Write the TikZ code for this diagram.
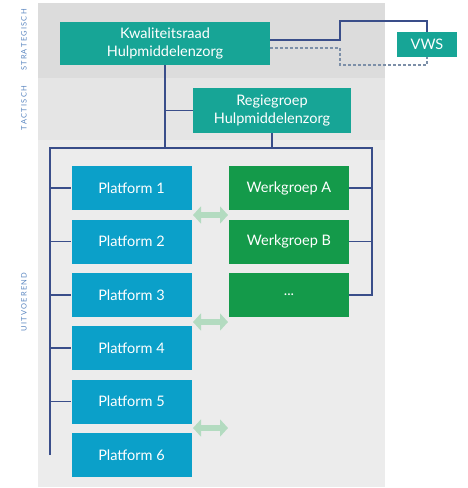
\documentclass[tikz,border=0pt]{standalone}
\usepackage{fontspec}
\setmainfont{Lato}
\usetikzlibrary{arrows.meta}
\definecolor{cTeal}{HTML}{17A596}
\definecolor{cPlat}{HTML}{0BA0C9}
\definecolor{cWerk}{HTML}{149A4A}
\definecolor{cLine}{HTML}{3A4E8A}
\definecolor{cDash}{HTML}{7C8FA8}
\definecolor{cArrow}{HTML}{B3DBC0}
\definecolor{cLabel}{HTML}{5A86C0}
\definecolor{bgS}{HTML}{DCDCDC}
\definecolor{bgT}{HTML}{E5E5E5}
\definecolor{bgU}{HTML}{ECECEC}
\tikzset{
  box/.style={draw=none, text=white, align=center, inner sep=0pt,
    font=\fontsize{14.5}{17.5}\selectfont},
  teal box/.style={box, fill=cTeal},
  plat box/.style={box, fill=cPlat, minimum width=120pt, minimum height=44pt},
  werk box/.style={box, fill=cWerk, minimum width=120pt, minimum height=44pt},
  ln/.style={draw=cLine, line width=1.4pt},
  dashln/.style={draw=cDash, line width=1.2pt, dash pattern=on 2.5pt off 2.5pt},
  dbl/.style={draw=cArrow, line width=6pt, {Triangle[width=17pt,length=8pt]}-{Triangle[width=17pt,length=8pt]}},
  side/.style={rotate=90, text=cLabel, font=\fontsize{7.5}{9}\selectfont}
}
\begin{document}
\begin{tikzpicture}[x=1pt,y=-1pt]
\useasboundingbox (0,0) rectangle (467,488);
% background bands
\fill[bgS] (38,3) rectangle (385,78);
\fill[bgT] (38,78) rectangle (385,140);
\fill[bgU] (38,140) rectangle (385,487);
% side labels
\node[side] (ls) at (24,40) {S\,T\,R\,A\,T\,E\,G\,I\,S\,C\,H};
\node[side] (lt) at (24,108) {T\,A\,C\,T\,I\,S\,C\,H};
\node[side] (lu) at (24,302) {U\,I\,T\,V\,O\,E\,R\,E\,N\,D};
% nodes
\node[teal box, minimum width=210pt, minimum height=43pt] (kwal) at (165,43.5) {Kwaliteitsraad\\Hulpmiddelenzorg};
\node[teal box, minimum width=60pt, minimum height=25pt] (vws) at (427,44.5) {VWS};
\node[teal box, minimum width=158pt, minimum height=45pt] (regie) at (272,110.5) {Regiegroep\\Hulpmiddelenzorg};
\node[plat box] (p1) at (131.5,188) {Platform 1};
\node[plat box] (p2) at (131.5,241.5) {Platform 2};
\node[plat box] (p3) at (131.5,295) {Platform 3};
\node[plat box] (p4) at (131.5,348) {Platform 4};
\node[plat box] (p5) at (131.5,401.5) {Platform 5};
\node[plat box] (p6) at (131.5,455) {Platform 6};
\node[werk box] (w1) at (289,188) {Werkgroep A};
\node[werk box] (w2) at (289,241.5) {Werkgroep B};
\node[werk box] (w3) at (289,295) {...};
% coordinates
\coordinate (bl) at (50,148);
\coordinate (br) at (372,148);
\coordinate (j1) at (340,21);
\coordinate (j2) at (340,65);
% VWS connectors
\draw[ln] ([yshift=3.5pt]kwal.east) -| (j1) -| (vws.north);
\draw[dashln] ([yshift=-4.5pt]kwal.east) -| (j2) -| (vws.south);
% hierarchy connectors
\draw[ln] (kwal.south) -- (kwal.south |- bl);
\draw[ln] (kwal.south |- regie.west) -- (regie.west);
\draw[ln] (regie.south) -- (regie.south |- bl);
\draw[ln] (p6.west -| bl) -- (bl) -- (br) -- (w3.east -| br) -- (w3.east);
\foreach \n in {p1,p2,p3,p4,p5} {\draw[ln] (\n.west -| bl) -- (\n.west);}
\foreach \n in {w1,w2} {\draw[ln] (\n.east) -- (\n.east -| br);}
% double arrows
\coordinate (a1l) at (193,215); \coordinate (a1r) at (228,215);
\coordinate (a2l) at (193,322); \coordinate (a2r) at (228,322);
\coordinate (a3l) at (193,428); \coordinate (a3r) at (228,428);
\draw[dbl] (a1l) -- (a1r);
\draw[dbl] (a2l) -- (a2r);
\draw[dbl] (a3l) -- (a3r);
\end{tikzpicture}
\end{document}
